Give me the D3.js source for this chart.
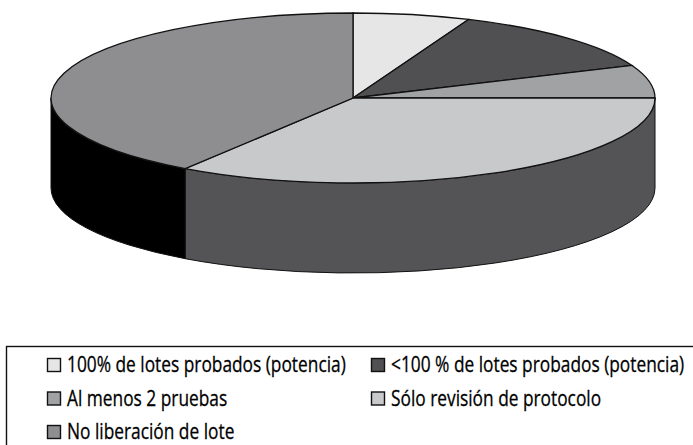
<!DOCTYPE html>
<html>
<head>
<meta charset="utf-8">
<script src="https://cdn.jsdelivr.net/npm/d3@7"></script>
<style>
    html, body { margin: 0; background: #fff; }
    svg { display: block; }
    .legend-label { font-family: "Open Sans", "Liberation Sans", sans-serif; font-size: 22.5px; fill: #000; stroke: #000; stroke-width: 0.3px; }
</style>
</head>
<body>
<div id="chart"></div>
<script>
// Counts, clockwise from 12 o'clock
const categories = [
    "100% de lotes probados (potencia)",
    "<100 % de lotes probados (potencia)",
    "Al menos 2 pruebas",
    "Sólo revisión de protocolo",
    "No liberación de lote"
];
const values = [2, 4, 2, 11, 13];
const topColors = ["#e6e6e6", "#505052", "#a0a2a4", "#c8c9cb", "#8e8e90"];
const sideColors = ["#8c8c8c", "#2e2e2e", "#6a6a6a", "#545456", "#000000"];

const width = 693;
const height = 445;
const cx = 353;
const cy = 98;
const rx = 302;
const ry = 85;
const depth = 90;

const svg = d3.select("#chart").append("svg")
    .attr("width", width)
    .attr("height", height)
    .attr("viewBox", "0 0 " + width + " " + height);

const slices = d3.pie().sort(null)(values);

// Point on the ellipse for a pie angle (0 = top, clockwise)
function rim(angle, dy) {
    return [cx + rx * Math.sin(angle), cy - ry * Math.cos(angle) + dy];
}

// Outer wall of a slice, only the part that faces the viewer
function wallPath(d) {
    const a0 = Math.max(d.startAngle, Math.PI / 2);
    const a1 = Math.min(d.endAngle, 3 * Math.PI / 2);
    if (a0 >= a1) {
        return null;
    }
    const t0 = rim(a0, 0);
    const t1 = rim(a1, 0);
    const b0 = rim(a0, depth);
    const b1 = rim(a1, depth);
    return "M" + t0 + "A" + rx + "," + ry + " 0 0 1 " + t1
        + "L" + b1 + "A" + rx + "," + ry + " 0 0 0 " + b0 + "Z";
}

svg.append("g").selectAll("path")
    .data(slices.filter(d => wallPath(d)))
    .enter().append("path")
    .attr("d", wallPath)
    .style("fill", d => sideColors[d.index])
    .style("stroke", "#111")
    .style("stroke-width", 1);

// Top face: a flat pie squashed into an ellipse
const arc = d3.arc().innerRadius(0).outerRadius(rx);

svg.append("g")
    .attr("transform", "translate(" + cx + "," + cy + ") scale(1," + (ry / rx) + ")")
    .selectAll("path")
    .data(slices)
    .enter().append("path")
    .attr("d", arc)
    .attr("vector-effect", "non-scaling-stroke")
    .style("fill", d => topColors[d.index])
    .style("stroke", "#111")
    .style("stroke-width", 1.3);

// Legend box runs off the right and bottom edges
svg.append("rect")
    .attr("x", 6.5)
    .attr("y", 346.5)
    .attr("width", width)
    .attr("height", height)
    .style("fill", "none")
    .style("stroke", "#111")
    .style("stroke-width", 1.4);

const colX = d3.scaleOrdinal().domain([0, 1]).range([47, 371]);
const rowY = d3.scalePoint().domain([0, 1, 2]).range([365, 432]);

const legend = svg.append("g").selectAll("g")
    .data(categories)
    .enter().append("g")
    .attr("transform", (d, i) => "translate(" + colX(i % 2) + "," + rowY(Math.floor(i / 2)) + ")");

legend.append("rect")
    .attr("x", 0.5)
    .attr("y", -6.5)
    .attr("width", 13)
    .attr("height", 13)
    .style("fill", (d, i) => topColors[i])
    .style("stroke", "#111")
    .style("stroke-width", 1.4);

// No condensed face is installed, so squeeze the labels to the reference's width
legend.append("text")
    .attr("class", "legend-label")
    .attr("transform", "translate(20,0) scale(0.77,1)")
    .attr("dy", "0.33em")
    .text(d => d);
</script>
</body>
</html>
